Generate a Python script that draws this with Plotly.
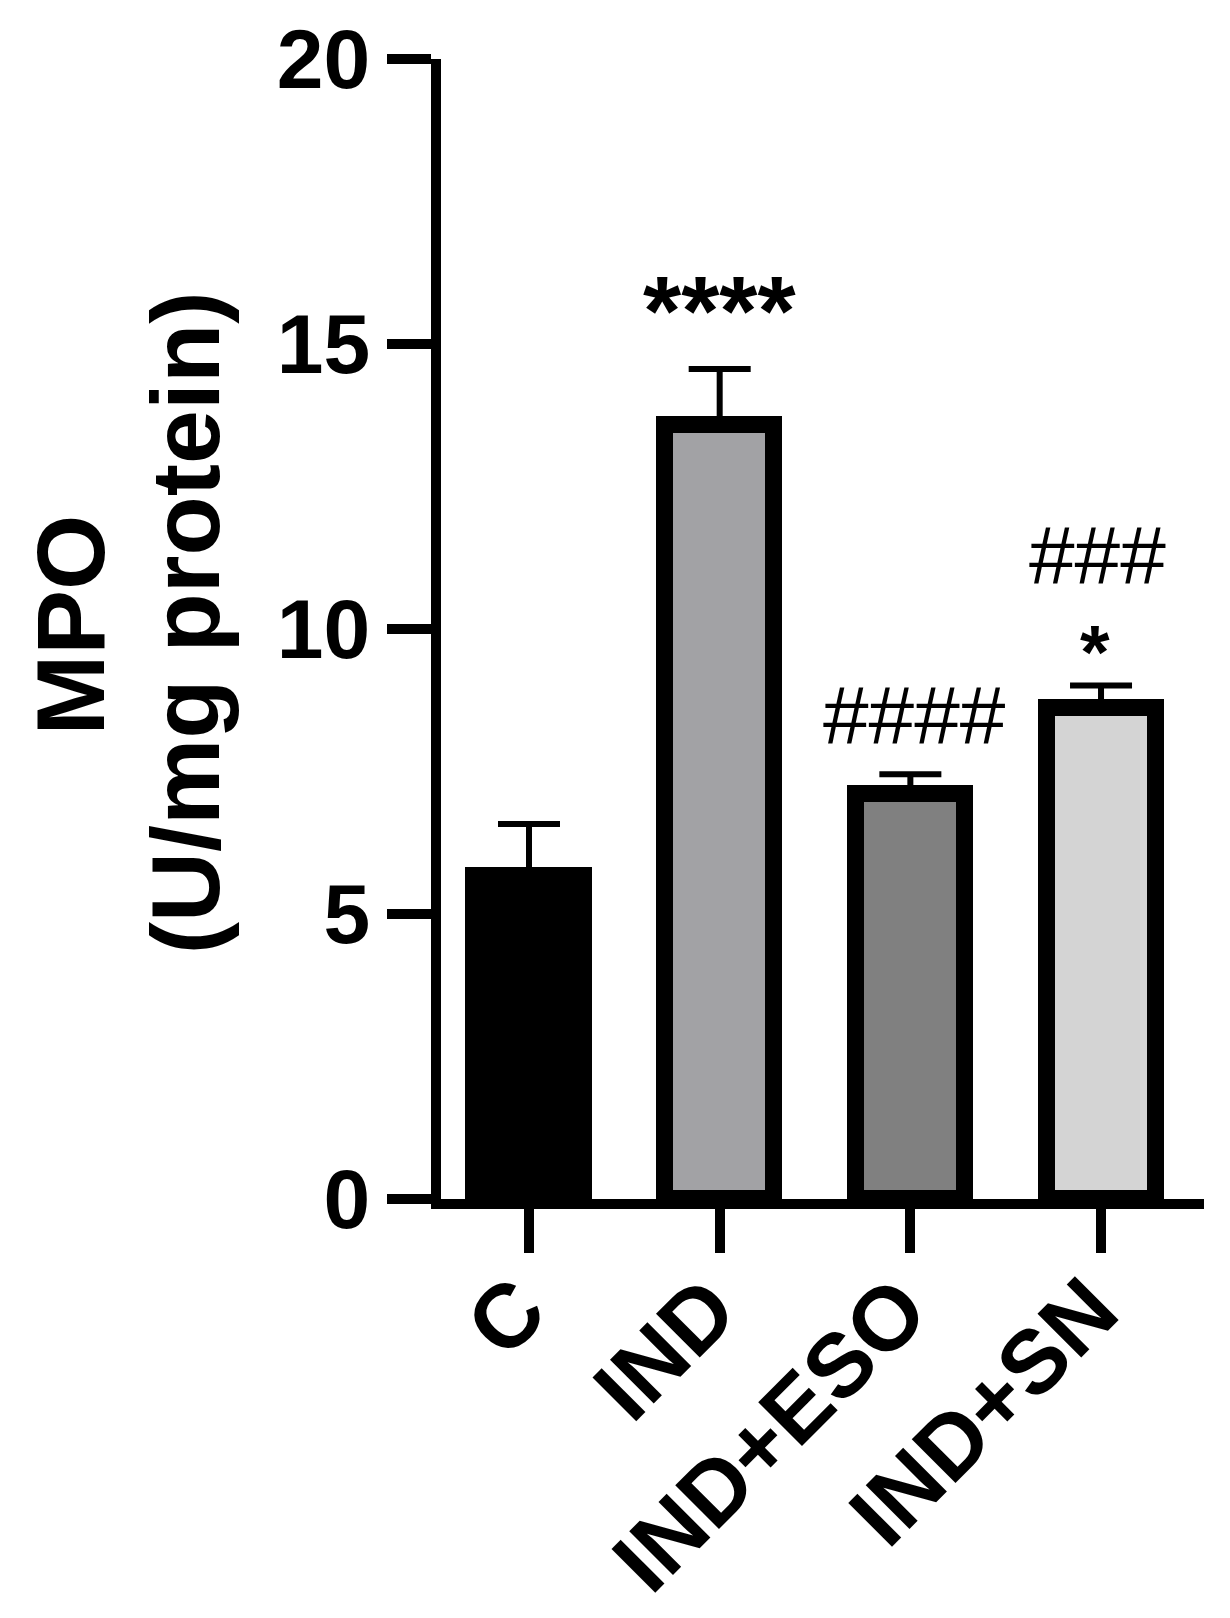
import plotly.graph_objects as go

# ---- data ----
groups = ["C", "IND", "IND+ESO", "IND+SN"]
mpo_mean = [5.67, 13.58, 7.10, 8.61]
mpo_sd = [0.91, 0.98, 0.35, 0.40]
fill_colors = ["#000000", "#a2a2a5", "#808080", "#d4d4d4"]
y_ticks = [0, 5, 10, 15, 20]
y_title_1 = "MPO"
y_title_2 = "(U/mg protein)"

# significance marks: (group index, text, font size, bold, x shift px, y shift px above error bar top)
sig_marks = [
    (1, "****", 98, True, 0, 1),
    (2, "####", 82, False, 4, 12),
    (3, "###", 82, False, -4, 83),
    (3, "*", 76, True, -6, -11),
]

FONT = "Arial, Liberation Sans, sans-serif"

fig = go.Figure()
fig.add_trace(go.Bar(
    x=groups,
    y=mpo_mean,
    width=0.572,
    marker=dict(color=fill_colors, line=dict(color="black", width=17)),
    error_y=dict(type="data", symmetric=False, array=mpo_sd,
                 arrayminus=[0] * len(mpo_sd),
                 color="black", thickness=6, width=31),
    showlegend=False,
))

annotations = []
for idx, txt, size, bold, xs, ys in sig_marks:
    annotations.append(dict(
        x=groups[idx], y=mpo_mean[idx] + mpo_sd[idx], xref="x", yref="y",
        text=("<b>%s</b>" % txt) if bold else txt,
        showarrow=False, yanchor="bottom", xanchor="center",
        xshift=xs, yshift=ys, font=dict(family=FONT, size=size, color="black"),
    ))

L, R, T, B = 433, 34, 51, 427
annotations.append(dict(
    x=0, y=0.503, xref="paper", yref="paper", text="<b>%s</b>" % y_title_1,
    textangle=-90, showarrow=False, xanchor="center", yanchor="middle",
    xshift=63 - L, font=dict(family=FONT, size=97, color="black"),
))
annotations.append(dict(
    x=0, y=0.505, xref="paper", yref="paper", text="<b>%s</b>" % y_title_2,
    textangle=-90, showarrow=False, xanchor="center", yanchor="middle",
    xshift=177 - L, font=dict(family=FONT, size=97, color="black"),
))

fig.update_layout(
    width=1230, height=1618,
    margin=dict(l=L, r=R, t=T, b=B, pad=0, autoexpand=False),
    plot_bgcolor="white", paper_bgcolor="white",
    annotations=annotations,
    bargap=0,
)
fig.update_xaxes(
    range=[-0.4615, 3.54], automargin=False,
    showline=True, linewidth=10, linecolor="black",
    ticks="outside", ticklen=44, tickwidth=10, tickcolor="black",
    tickangle=-45, ticklabelstandoff=-32, ticklabelshift=-10,
    tickfont=dict(family=FONT, size=90, color="black", weight="bold"),
    showgrid=False, zeroline=False,
)
fig.update_yaxes(
    range=[0, 20], tickvals=y_ticks, automargin=False,
    showline=True, linewidth=10, linecolor="black",
    ticks="outside", ticklen=44, tickwidth=10, tickcolor="black",
    tickfont=dict(family=FONT, size=84, color="black", weight="bold"),
    showgrid=False, zeroline=False,
)

fig.write_html("out.html")
